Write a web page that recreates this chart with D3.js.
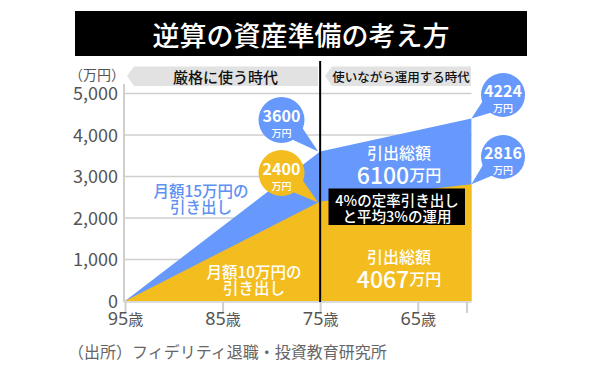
<!DOCTYPE html>
<html><head><meta charset="utf-8">
<script src="https://cdn.jsdelivr.net/npm/d3@7"></script>
<style>
body{margin:0;background:#fff;}
text{font-family:"Noto Sans CJK JP","Noto Sans",sans-serif;}
</style></head>
<body><svg id="c" width="600" height="365"></svg>
<script>
const ages = [95, 75, 59.5];
const blueVals = [0, 3600, 4400];
const yellowVals = [0, 2400, 2816];
const xTicks = [95, 85, 75, 65, 60];
const xTickLabels = ["95", "85", "75", "65", ""];
const yTicks = [0, 1000, 2000, 3000, 4000, 5000];
const title = "逆算の資産準備の考え方";
const source = "（出所）フィデリティ退職・投資教育研究所";

const BLUE = "#6699fb", GOLD = "#f3bd20", GRID = "#cfcfcf", AX = "#555";
const svg = d3.select("#c");
const x = d3.scaleLinear().domain([95, 60]).range([125, 466.5]);
const y = d3.scaleLinear().domain([0, 5000]).range([301, 93.5]);

// title
svg.append("rect").attr("x",75).attr("y",11).attr("width",452).attr("height",45).attr("fill","#000");
svg.append("text").attr("x",301).attr("y",34).attr("text-anchor","middle").attr("dominant-baseline","central")
  .attr("fill","#fff").attr("font-size",27).attr("font-weight",500).text(title);

// gridlines
svg.append("g").selectAll("line").data(yTicks.filter(d=>d>0)).join("line")
  .attr("x1",124).attr("x2",471.5).attr("y1",d=>y(d)).attr("y2",d=>y(d))
  .attr("stroke",GRID).attr("stroke-width",1.5);

// y axis
const yAxis = d3.axisLeft(y).tickValues(yTicks).tickSize(0).tickPadding(6).tickFormat(d3.format(","));
const gy = svg.append("g").attr("transform","translate(124,0)").call(yAxis);
gy.select(".domain").remove();
gy.selectAll("text").attr("font-family","'Noto Sans',sans-serif").attr("font-size",18).attr("fill",AX).attr("dy","0.35em");
svg.append("line").attr("x1",124).attr("x2",124).attr("y1",84).attr("y2",302).attr("stroke",GRID).attr("stroke-width",2);
svg.append("text").attr("x",97).attr("y",74).attr("text-anchor","middle").attr("dominant-baseline","central")
  .attr("font-size",14).attr("fill",AX).text("（万円）");

// areas
const area = vals => d3.area().x((d,i)=>x(ages[i])).y0(y(0)).y1((d,i)=>y(vals[i]))(ages);
svg.append("path").attr("d",area(blueVals)).attr("fill",BLUE);
svg.append("path").attr("d",area(yellowVals)).attr("fill",GOLD);

// x axis
const xAxis = d3.axisBottom(x).tickValues(xTicks).tickSize(11).tickPadding(2).tickFormat((d,i)=>xTickLabels[i]);
const gx = svg.append("g").attr("transform","translate(0,302)").call(xAxis);
gx.select(".domain").remove();
gx.selectAll(".tick line").attr("stroke",GRID).attr("stroke-width",2);
gx.selectAll(".tick text").each(function(d,i){
  const t=d3.select(this); t.text(null).attr("fill",AX).attr("y",14).attr("dy","0.9em");
  if(!xTickLabels[i]) return;
  t.append("tspan").attr("font-family","'Noto Sans',sans-serif").attr("font-size",18).text(xTickLabels[i]);
  t.append("tspan").attr("font-size",15).text("歳");
});
svg.append("line").attr("x1",124).attr("x2",471.5).attr("y1",302).attr("y2",302).attr("stroke",GRID).attr("stroke-width",1.5);

// divider
svg.append("line").attr("x1",x(75)).attr("x2",x(75)).attr("y1",61).attr("y2",302).attr("stroke","#000").attr("stroke-width",2);

// banners
function banner(x0,x1,label,fs){
  svg.append("path").attr("d",`M${x0},76 L${x0+7},66.5 L${x1},66.5 L${x1},86 L${x0+7},86 Z`).attr("fill","#e2e2e2");
  svg.append("text").attr("x",(x0+x1)/2+3).attr("y",76.5).attr("text-anchor","middle").attr("dominant-baseline","central")
    .attr("font-size",fs).attr("font-weight",500).attr("fill","#111").text(label);
}
banner(127,318,"厳格に使う時代",15);
banner(325,471,"使いながら運用する時代",12.5);

// bubbles
function bubble(cx,cy,r,tx,ty,col,num){
  const a=Math.atan2(ty-cy,tx-cx), p=a+Math.PI/2, w=r*0.38, d=r*0.75;
  const bx=cx+Math.cos(a)*d, by=cy+Math.sin(a)*d;
  svg.append("path").attr("d",`M${bx+Math.cos(p)*w},${by+Math.sin(p)*w} L${tx},${ty} L${bx-Math.cos(p)*w},${by-Math.sin(p)*w} Z`).attr("fill",col);
  svg.append("circle").attr("cx",cx).attr("cy",cy).attr("r",r).attr("fill",col);
  svg.append("text").attr("x",cx).attr("y",cy-5.5).attr("text-anchor","middle").attr("dominant-baseline","central")
    .attr("font-family","'Noto Sans',sans-serif").attr("font-weight",600).attr("font-size",16).attr("fill","#fff").text(num);
  svg.append("text").attr("x",cx).attr("y",cy+12).attr("text-anchor","middle").attr("dominant-baseline","central").attr("font-weight",500)
    .attr("font-size",10).attr("fill","#fff").text("万円");
}
bubble(281.5,120,23,x(75)-2,y(3600),BLUE,"3600");
bubble(281.5,173,23,x(75)-2,y(2400)+1,GOLD,"2400");
bubble(503,95,22,x(59.5),y(4400),BLUE,"4224");
bubble(503,157,22,x(59.5),y(2816),BLUE,"2816");

// multi-line labels as single text elements
function lines(cx,y0,gap,arr,fs,col){
  const t=svg.append("text").attr("text-anchor","middle").attr("font-size",fs).attr("font-weight",500).attr("fill",col);
  arr.forEach((s,i)=>t.append("tspan").attr("x",cx).attr("y",y0+i*gap).attr("dominant-baseline","central").text(s));
  return t;
}
lines(201,189.5,16,["月額15万円の","引き出し"],15.5,"#5f90f3");
lines(254,271,16,["月額10万円の","引き出し"],15.5,"#fff");
function total(cx,y0,num){
  const t=svg.append("text").attr("text-anchor","middle").attr("fill","#fff").attr("font-weight",500);
  t.append("tspan").attr("x",cx).attr("y",y0).attr("dominant-baseline","central").attr("font-size",16).text("引出総額");
  t.append("tspan").attr("x",cx).attr("y",y0+22).attr("dominant-baseline","central").attr("font-size",23).text(num);
  t.append("tspan").attr("dominant-baseline","central").attr("font-size",16).text("万円");
}
total(399,152,"6100");
total(399,256,"4067");

svg.append("rect").attr("x",328.5).attr("y",188.5).attr("width",136.5).attr("height",36.5).attr("fill","#000");
lines(397,199.5,15.5,["4%の定率引き出し","と平均3%の運用"],14.5,"#fff");

// source
svg.append("text").attr("x",68).attr("y",351).attr("dominant-baseline","central").attr("font-size",16).attr("fill","#666").text(source);
</script></body></html>
